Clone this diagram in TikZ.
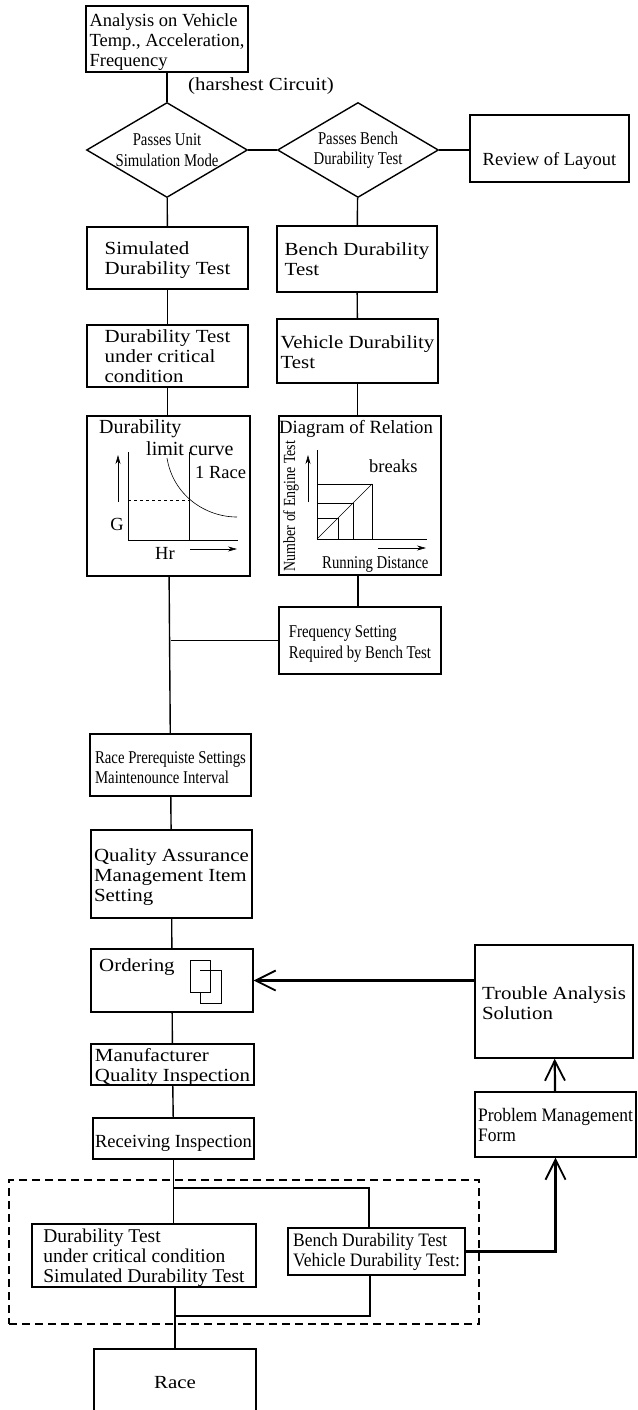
\documentclass[tikz,border=0pt]{standalone}
\usepackage{fontspec}
\setmainfont{Liberation Serif}
\newfontfamily\narrowfam[FakeStretch=0.82]{Liberation Serif}
\newfontfamily\midfam[FakeStretch=0.92]{Liberation Serif}
\newfontfamily\widefam[FakeStretch=1.13]{Liberation Serif}
\newcommand{\bodyfont}{\fontsize{18.5}{20}\selectfont}
\newcommand{\narrowfont}{\narrowfam\fontsize{18}{20.5}\selectfont}
\newcommand{\midfont}{\midfam\fontsize{19}{20}\selectfont}
\newcommand{\widefont}{\widefam\fontsize{18.5}{20}\selectfont}
\newcommand{\dropto}[1]{\rule{0pt}{#1pt}}
\usetikzlibrary{arrows.meta,positioning,shapes.geometric}
\tikzset{
  flowbox/.style={draw, line width=1.4pt, inner sep=0pt, align=left, font=\bodyfont},
  widebox/.style={flowbox, font=\widefont},
  testdiamond/.style={draw, diamond, line width=1.4pt, inner sep=-15pt, shape aspect=1.7, minimum width=161, minimum height=95, align=center, font=\narrowfont},
  flowline/.style={line width=1.4pt},
  heavyline/.style={line width=2.2pt, -{Straight Barb[length=20pt,width=20pt,line width=1.8pt]}},
  plotline/.style={line width=0.6pt},
  plotarrow/.style={line width=0.6pt, -{Stealth[length=9pt,width=5pt]}},
  txt/.style={inner sep=0pt, font=\bodyfont},
  nrw/.style={inner sep=0pt, font=\narrowfont}
}
\begin{document}
\begin{tikzpicture}[x=1pt,y=-1pt]
  \useasboundingbox (0,0) rectangle (637,1410);

  % left column
  \node[flowbox, minimum width=162, minimum height=66] (analysis) at (167,39) {\dropto{19}Analysis on Vehicle\\Temp., Acceleration,\\Frequency};
  \node[txt, anchor=west, font=\widefont] (harshest) at (188,86) {(harshest Circuit)};
  \node[testdiamond] (unitsim) at (167,150) {Passes Unit\\Simulation Mode};
  \node[testdiamond] (benchpass) at (358,150) {Passes Bench\\Durability Test};
  \node[flowbox, minimum width=159, minimum height=67, align=center] (layout) at (549.5,148.5) {\dropto{37}Review of Layout};
  \node[widebox, minimum width=161, minimum height=62] (simtest) at (167.5,258) {\dropto{17}Simulated\\Durability Test};
  \node[widebox, minimum width=161, minimum height=62] (crittest) at (167.5,356) {Durability Test\\under critical\\condition};
  \node[flowbox, minimum width=163, minimum height=160] (durlimit) at (168.5,496) {};

  % right column
  \node[widebox, minimum width=160, minimum height=66] (benchtest) at (357,259) {Bench Durability\\Test};
  \node[widebox, minimum width=161, minimum height=64] (vehtest) at (357.5,351) {\dropto{15}Vehicle Durability\\Test};
  \node[flowbox, minimum width=162, minimum height=159] (relation) at (360,495.5) {};
  \node[flowbox, minimum width=162, minimum height=67, font=\narrowfont] (freqset) at (360,640.5) {\dropto{19}Frequency Setting\\Required by Bench Test};

  % durability limit chart
  \node[txt, anchor=west, font=\fontsize{20}{20}\selectfont] (durlbl) at (99,429) {Durability};
  \node[txt, anchor=west, font=\fontsize{20}{20}\selectfont] (limitlbl) at (146,449) {limit curve};
  \node[txt, anchor=west] (racelbl) at (195,472) {1 Race};
  \node[txt] (glbl) at (117,524) {G};
  \node[txt] (hrlbl) at (165,553) {Hr};
  \draw[plotline] (128,452) -- (128,540) -- (238,540);
  \draw[plotline] (189,452) -- (189,540);
  \draw[plotline, dashed] (128,500) -- (189,500);
  \draw[plotline] (167,458) .. controls (173,495) and (205,517) .. (237,517);
  \draw[plotarrow] (118,502) -- (118,455);
  \draw[plotarrow] (190,549) -- (237,549);

  % relation chart
  \node[txt, anchor=west, font=\fontsize{18.7}{20}\selectfont] (rellbl) at (279,429) {Diagram of Relation};
  \node[txt, anchor=west] (breakslbl) at (369,466) {breaks};
  \node[nrw, rotate=90, font=\narrowfam\fontsize{17}{20}\selectfont] (enginelbl) at (291,506) {Number of Engine Test};
  \node[nrw, anchor=west] (distlbl) at (322,564) {Running Distance};
  \draw[plotline] (317,450) -- (317,539) -- (427,539);
  \draw[plotline] (317,539) -- (372,484);
  \draw[plotline] (317,484) -- (372,484) -- (372,539);
  \draw[plotline] (317,503) -- (353,503) -- (353,539);
  \draw[plotline] (317,518) -- (338,518) -- (338,539);
  \draw[plotarrow] (308,502) -- (308,455);
  \draw[plotarrow] (378,548) -- (426,548);

  % lower column
  \node[flowbox, minimum width=161, minimum height=62, font=\narrowfont] (raceset) at (170.5,765) {\dropto{17}Race Prerequiste Settings\\Maintenounce Interval};
  \node[widebox, minimum width=161, minimum height=88] (qualitem) at (171.5,874) {\dropto{19}Quality Assurance\\Management Item\\Setting};
  \node[flowbox, minimum width=162, minimum height=63] (ordering) at (172,980.5) {};
  \node[txt, anchor=west, font=\widefont] (orderlbl) at (99,967) {Ordering};
  \draw[line width=0.9pt] (200,970) -| (221,1003) -| (200,992);
  \draw[line width=0.9pt] (190,960) rectangle (210,992);
  \node[widebox, minimum width=163, minimum height=41] (maker) at (172.5,1064.5) {\dropto{17}Manufacturer\\Quality Inspection};
  \node[flowbox, minimum width=161, minimum height=41] (receiving) at (173.5,1138.5) {\dropto{21}Receiving Inspection};

  % trouble loop
  \node[widebox, minimum width=158, minimum height=113] (trouble) at (554,1001.5) {\dropto{17}Trouble Analysis\\Solution};
  \node[flowbox, minimum width=161, minimum height=65, font=\midfont] (problem) at (555.5,1124.5) {Problem Management\\Form};

  % final tests
  \node[draw, dashed, line width=1.2pt, dash pattern=on 8pt off 5pt, minimum width=470, minimum height=144] (testarea) at (244,1252) {};
  \node[flowbox, minimum width=224, minimum height=63, font=\fontsize{19.5}{20}\selectfont] (finalcrit) at (144,1255.5) {\dropto{18}Durability Test\\under critical condition\\Simulated Durability Test};
  \node[flowbox, minimum width=177, minimum height=47, font=\midfont] (finalbench) at (376.5,1251.5) {Bench Durability Test\\Vehicle Durability Test:};
  \node[widebox, minimum width=162, minimum height=64] (race) at (175,1381) {\dropto{16}Race};
  \coordinate (splittop) at (369,1188);
  \coordinate (splitbot) at (370,1316);

  % connectors
  \draw[flowline] (analysis) -- (unitsim);
  \draw[flowline] (unitsim) -- (benchpass);
  \draw[flowline] (benchpass) -- (layout.west |- benchpass);
  \draw[flowline] (unitsim) -- (simtest);
  \draw[flowline] (simtest) -- (crittest);
  \draw[flowline] (crittest) -- (crittest |- durlimit.north);
  \draw[flowline] (benchpass) -- (benchtest);
  \draw[flowline] (benchtest) -- (vehtest);
  \draw[flowline] (vehtest) -- (vehtest |- relation.north);
  \draw[flowline] ([xshift=-2pt]relation.south) -- ([xshift=-2pt]freqset.north);
  \draw[flowline] (durlimit) -- (raceset);
  \draw[flowline] (freqset.west) -- (freqset.west -| raceset.north);
  \draw[flowline] (raceset) -- (qualitem);
  \draw[flowline] (qualitem) -- (ordering);
  \draw[flowline] (ordering) -- (maker);
  \draw[flowline] (maker) -- (receiving);
  \draw[flowline] (receiving.south) -- (receiving.south |- finalcrit.north);
  \draw[flowline] (receiving.south |- splittop) -- (splittop) -- (splittop |- finalbench.north);
  \draw[flowline] (race.north |- finalcrit.south) -- (race.north);
  \draw[flowline] (finalbench.south -| splitbot) -- (splitbot) -- (race.north |- splitbot);
  \draw[heavyline] (finalbench.east) -| (problem.south);
  \draw[heavyline] (problem) -- (trouble);
  \draw[heavyline] (trouble.west |- ordering.east) -- (ordering.east);
\end{tikzpicture}
\end{document}
